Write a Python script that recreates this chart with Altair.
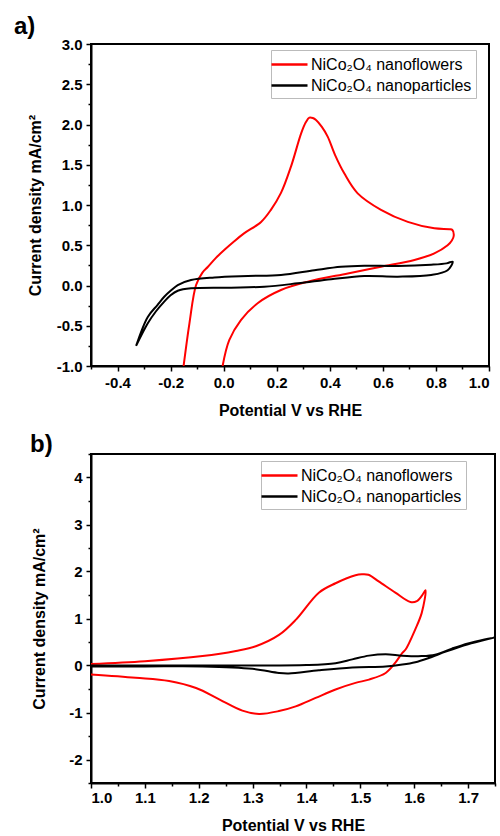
import altair as alt
import pandas as pd

FLOWERS = "NiCo₂O₄ nanoflowers"
PARTICLES = "NiCo₂O₄ nanoparticles"
SERIES = [FLOWERS, PARTICLES]
COLORS = ["#ff0000", "#000000"]

# ---- panel a) ----
a_flowers_x = [-0.151, -0.129, -0.104, -0.080, -0.060, -0.030, 0.002, 0.040, 0.078, 0.141, 0.178,
               0.216, 0.254, 0.292, 0.310, 0.323, 0.336, 0.348, 0.370, 0.392, 0.420, 0.455, 0.505,
               0.593, 0.694, 0.794, 0.851, 0.862, 0.867, 0.860, 0.844, 0.794, 0.719, 0.593, 0.468,
               0.317, 0.216, 0.128, 0.065, 0.021, -0.004]
a_flowers_y = [-1.00, -0.47, 0.006, 0.16, 0.23, 0.34, 0.44, 0.55, 0.65, 0.79, 0.94,
               1.15, 1.48, 1.89, 2.03, 2.085, 2.08, 2.056, 1.97, 1.85, 1.62, 1.39, 1.145,
               0.94, 0.79, 0.71, 0.70, 0.69, 0.615, 0.56, 0.50, 0.40, 0.317, 0.233, 0.15,
               0.047, -0.056, -0.22, -0.43, -0.68, -1.00]
a_particles_x = [-0.330, -0.286, -0.249, -0.224, -0.198, -0.173, -0.123, -0.035, 0.091, 0.216, 0.342,
                 0.442, 0.530, 0.656, 0.782, 0.840, 0.863, 0.844, 0.782, 0.656, 0.530, 0.405,
                 0.279, 0.153, 0.028, -0.123, -0.173, -0.200, -0.224, -0.255, -0.286, -0.330]
a_particles_y = [-0.75, -0.39, -0.24, -0.14, -0.06, 0.006, 0.068, 0.10, 0.118, 0.13, 0.19,
                 0.233, 0.246, 0.242, 0.258, 0.275, 0.296, 0.19, 0.13, 0.11, 0.118, 0.077,
                 0.027, -0.015, -0.027, -0.035, -0.065, -0.12, -0.20, -0.32, -0.47, -0.75]

a_x_ticks = [-0.5, -0.4, -0.3, -0.2, -0.1, 0.0, 0.1, 0.2, 0.3, 0.4, 0.5, 0.6, 0.7, 0.8, 0.9, 1.0]
a_y_ticks = [-1.0, -0.75, -0.5, -0.25, 0.0, 0.25, 0.5, 0.75, 1.0, 1.25, 1.5, 1.75, 2.0, 2.25,
             2.5, 2.75, 3.0]

# ---- panel b) ----
b_flowers_x = [1.000, 1.100, 1.207, 1.269, 1.306, 1.349, 1.380, 1.423, 1.454, 1.491, 1.503, 1.515,
               1.534, 1.565, 1.593, 1.605, 1.614, 1.621, 1.614, 1.602, 1.584, 1.578, 1.565, 1.547,
               1.516, 1.491, 1.454, 1.417, 1.380, 1.349, 1.312, 1.281, 1.238, 1.195, 1.145, 1.083,
               1.000]
b_flowers_y = [0.03, 0.09, 0.20, 0.31, 0.41, 0.65, 0.97, 1.55, 1.75, 1.92, 1.94, 1.93,
               1.79, 1.55, 1.35, 1.37, 1.48, 1.60, 1.12, 0.77, 0.34, 0.27, 0.06, -0.16,
               -0.30, -0.37, -0.51, -0.69, -0.87, -0.97, -1.03, -0.96, -0.72, -0.48, -0.33, -0.26,
               -0.19]
b_particles_x = [1.000, 1.100, 1.200, 1.300, 1.400, 1.454, 1.485, 1.516, 1.547, 1.578, 1.614, 1.639,
                 1.670, 1.700, 1.750, 1.700, 1.660, 1.627, 1.602, 1.578, 1.547, 1.485, 1.423, 1.367,
                 1.349, 1.300, 1.207, 1.100, 1.000]
b_particles_y = [0.00, 0.00, 0.00, 0.00, 0.01, 0.05, 0.13, 0.21, 0.24, 0.21, 0.20, 0.23,
                 0.36, 0.47, 0.60, 0.45, 0.30, 0.16, 0.07, 0.02, -0.02, -0.04, -0.10, -0.17,
                 -0.16, -0.07, -0.02, -0.02, -0.02]

b_x_ticks = [1.0, 1.05, 1.1, 1.15, 1.2, 1.25, 1.3, 1.35, 1.4, 1.45, 1.5, 1.55, 1.6, 1.65, 1.7, 1.75]
b_y_ticks = [-2.5, -2.0, -1.5, -1.0, -0.5, 0.0, 0.5, 1.0, 1.5, 2.0, 2.5, 3.0, 3.5, 4.0, 4.5]


def frame(xs_list, ys_list):
    rows = []
    for name, xs, ys in zip(SERIES, xs_list, ys_list):
        for i, (xv, yv) in enumerate(zip(xs, ys)):
            rows.append({"x": xv, "y": yv, "series": name, "order": i})
    return pd.DataFrame(rows)


def signed(fmt):
    return f"(datum.value < 0 ? '-' : '') + format(abs(datum.value), '{fmt}')"


def panel(df, label, label_dx, label_dy, xdom, ydom, xticks, yticks, xmajor, ymajor,
          xfmt, yfmt, xlab_pad, xtitle_pad, ytitle_pad, legx, legy, w, h):
    lines = alt.Chart(df).mark_line(strokeWidth=2, clip=True, interpolate="catmull-rom").encode(
        x=alt.X("x:Q",
                scale=alt.Scale(domain=xdom, nice=False, zero=False),
                axis=alt.Axis(values=xticks,
                              labelExpr=f"{xmajor} ? {signed(xfmt)} : ''",
                              tickSize={"condition": {"test": xmajor, "value": 5}, "value": 3},
                              labelPadding=xlab_pad, titlePadding=xtitle_pad),
                title="Potential V vs RHE"),
        y=alt.Y("y:Q",
                scale=alt.Scale(domain=ydom, nice=False, zero=False),
                axis=alt.Axis(values=yticks,
                              labelExpr=f"{ymajor} ? {signed(yfmt)} : ''",
                              tickSize={"condition": {"test": ymajor, "value": 5}, "value": 3},
                              labelPadding=4, titlePadding=ytitle_pad),
                title="Current density mA/cm²"),
        color=alt.Color("series:N",
                        scale=alt.Scale(domain=SERIES, range=COLORS),
                        legend=alt.Legend(title=None, orient="none", legendX=legx, legendY=legy)),
        order="order:Q",
    )
    text = alt.Chart(pd.DataFrame({"t": [label]})).mark_text(
        align="left", baseline="alphabetic", fontSize=24, fontWeight="bold",
        font="Liberation Sans", color="black"
    ).encode(x=alt.value(label_dx), y=alt.value(label_dy), text="t:N")
    return alt.layer(lines, text).properties(width=w, height=h)


df_a = frame([a_flowers_x, a_particles_x], [a_flowers_y, a_particles_y])
df_b = frame([b_flowers_x, b_particles_x], [b_flowers_y, b_particles_y])

pa = panel(df_a, "a)", -77, -10, [-0.5, 1.0], [-1.0, 3.0], a_x_ticks, a_y_ticks,
           "round(datum.value*10) % 2 == 0", "round(datum.value*4) % 2 == 0",
           ".1f", ".1f", 4, 12, 13, 180, 6, 398, 322)
pb = panel(df_b, "b)", -61, -2, [1.0, 1.75], [-2.5, 4.5], b_x_ticks, b_y_ticks,
           "round(datum.value*100) % 10 == 0", "round(datum.value*2) % 2 == 0",
           ".1f", ".0f", 2, 12, 21, 170, 7, 404, 329)

chart = alt.vconcat(pa, pb, spacing=13).resolve_scale(color="independent").properties(
    padding={"top": 14, "left": 13, "right": 0, "bottom": 0}, background="white"
).configure_view(
    stroke="black", strokeWidth=2
).configure_axis(
    grid=False, domainColor="black", domainWidth=2, tickColor="black", tickWidth=1.5,
    labelFont="Liberation Sans", labelFontSize=15, labelFontWeight="bold", labelColor="black",
    titleFont="Liberation Sans", titleFontSize=16, titleFontWeight="bold", titleColor="black"
).configure_legend(
    labelFont="Liberation Sans", labelFontSize=16, labelColor="black", labelLimit=300,
    symbolType="M-2,0H2", symbolSize=324, symbolStrokeWidth=2.5, symbolOffset=4,
    labelOffset=11, strokeColor="#bbbbbb", fillColor="white", padding=4, rowPadding=2
)

chart.save("out.html", embed_options={"renderer": "svg", "actions": False})
